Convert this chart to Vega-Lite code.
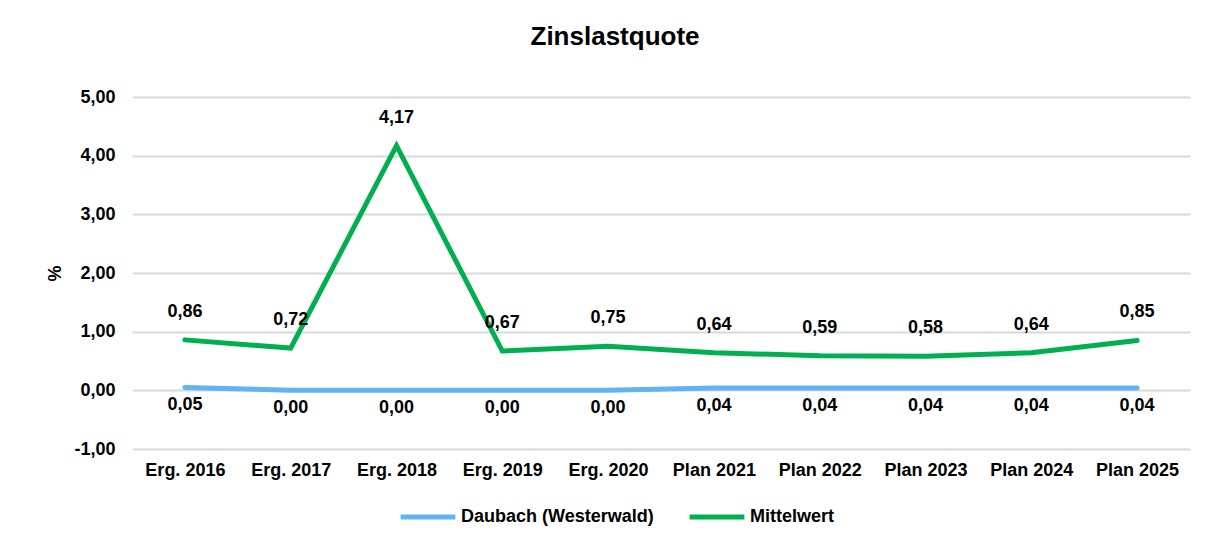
{
  "$schema": "https://vega.github.io/schema/vega-lite/v6.json",
  "width": 1058,
  "height": 352,
  "autosize": {"type": "none"},
  "padding": {"left": 132, "top": 97, "right": 19, "bottom": 94},
  "background": "white",
  "config": {
    "locale": {"number": {"decimal": ",", "thousands": ".", "grouping": [3], "currency": ["", " €"], "minus": "-"}},
    "font": "Liberation Sans",
    "view": {"stroke": null}
  },
  "title": {
    "text": "Zinslastquote",
    "fontSize": 26,
    "fontWeight": "bold",
    "color": "#000000",
    "font": "Liberation Sans",
    "anchor": "middle",
    "dx": -46,
    "offset": 38
  },
  "data": {
    "values": [
      {"Jahr": "Erg. 2016", "Reihe": "Daubach (Westerwald)", "Wert": 0.05},
      {"Jahr": "Erg. 2017", "Reihe": "Daubach (Westerwald)", "Wert": 0.0},
      {"Jahr": "Erg. 2018", "Reihe": "Daubach (Westerwald)", "Wert": 0.0},
      {"Jahr": "Erg. 2019", "Reihe": "Daubach (Westerwald)", "Wert": 0.0},
      {"Jahr": "Erg. 2020", "Reihe": "Daubach (Westerwald)", "Wert": 0.0},
      {"Jahr": "Plan 2021", "Reihe": "Daubach (Westerwald)", "Wert": 0.04},
      {"Jahr": "Plan 2022", "Reihe": "Daubach (Westerwald)", "Wert": 0.04},
      {"Jahr": "Plan 2023", "Reihe": "Daubach (Westerwald)", "Wert": 0.04},
      {"Jahr": "Plan 2024", "Reihe": "Daubach (Westerwald)", "Wert": 0.04},
      {"Jahr": "Plan 2025", "Reihe": "Daubach (Westerwald)", "Wert": 0.04},
      {"Jahr": "Erg. 2016", "Reihe": "Mittelwert", "Wert": 0.86},
      {"Jahr": "Erg. 2017", "Reihe": "Mittelwert", "Wert": 0.72},
      {"Jahr": "Erg. 2018", "Reihe": "Mittelwert", "Wert": 4.17},
      {"Jahr": "Erg. 2019", "Reihe": "Mittelwert", "Wert": 0.67},
      {"Jahr": "Erg. 2020", "Reihe": "Mittelwert", "Wert": 0.75},
      {"Jahr": "Plan 2021", "Reihe": "Mittelwert", "Wert": 0.64},
      {"Jahr": "Plan 2022", "Reihe": "Mittelwert", "Wert": 0.59},
      {"Jahr": "Plan 2023", "Reihe": "Mittelwert", "Wert": 0.58},
      {"Jahr": "Plan 2024", "Reihe": "Mittelwert", "Wert": 0.64},
      {"Jahr": "Plan 2025", "Reihe": "Mittelwert", "Wert": 0.85}
    ]
  },
  "encoding": {
    "x": {
      "field": "Jahr",
      "type": "nominal",
      "sort": null,
      "scale": {"type": "point", "padding": 0.5},
      "axis": {
        "title": null,
        "labelAngle": 0,
        "labelFontSize": 18,
        "labelFontWeight": "bold",
        "labelColor": "#000000",
        "labelPadding": 12,
        "domain": false,
        "ticks": false,
        "grid": false
      }
    },
    "y": {
      "field": "Wert",
      "type": "quantitative",
      "scale": {"domain": [-1, 5], "nice": false, "zero": false},
      "axis": {
        "title": "%",
        "titleFontSize": 18,
        "titleFontWeight": "bold",
        "titleColor": "#000000",
        "titleX": -77,
        "titleY": 176,
        "titleAlign": "center",
        "titleBaseline": "middle",
        "values": [-1, 0, 1, 2, 3, 4, 5],
        "format": ".2f",
        "labelFontSize": 18,
        "labelFontWeight": "bold",
        "labelColor": "#000000",
        "labelPadding": 17,
        "domain": false,
        "ticks": false,
        "gridColor": "#d9d9d9",
        "gridWidth": 2
      }
    }
  },
  "layer": [
    {
      "mark": {"type": "line", "strokeWidth": 5, "strokeCap": "round", "strokeJoin": "miter"},
      "encoding": {
        "color": {
          "field": "Reihe",
          "type": "nominal",
          "scale": {"domain": ["Daubach (Westerwald)", "Mittelwert"], "range": ["#63b3f3", "#00b050"]},
          "legend": {
            "title": null,
            "orient": "none",
            "direction": "horizontal",
            "legendX": 266,
            "legendY": 390,
            "symbolType": "stroke",
            "symbolSize": 3000,
            "symbolStrokeWidth": 5,
            "labelFontSize": 18,
            "labelFontWeight": "bold",
            "labelColor": "#000000",
            "labelOffset": 3,
            "labelLimit": 0,
            "columnPadding": 25
          }
        }
      }
    },
    {
      "transform": [{"filter": "datum.Reihe === 'Mittelwert'"}],
      "mark": {"type": "text", "fontSize": 18, "fontWeight": "bold", "color": "#000000", "dy": -28, "baseline": "middle"},
      "encoding": {"text": {"field": "Wert", "type": "quantitative", "format": ".2f"}}
    },
    {
      "transform": [{"filter": "datum.Reihe === 'Daubach (Westerwald)'"}],
      "mark": {"type": "text", "fontSize": 18, "fontWeight": "bold", "color": "#000000", "dy": 18, "baseline": "middle"},
      "encoding": {"text": {"field": "Wert", "type": "quantitative", "format": ".2f"}}
    }
  ]
}
